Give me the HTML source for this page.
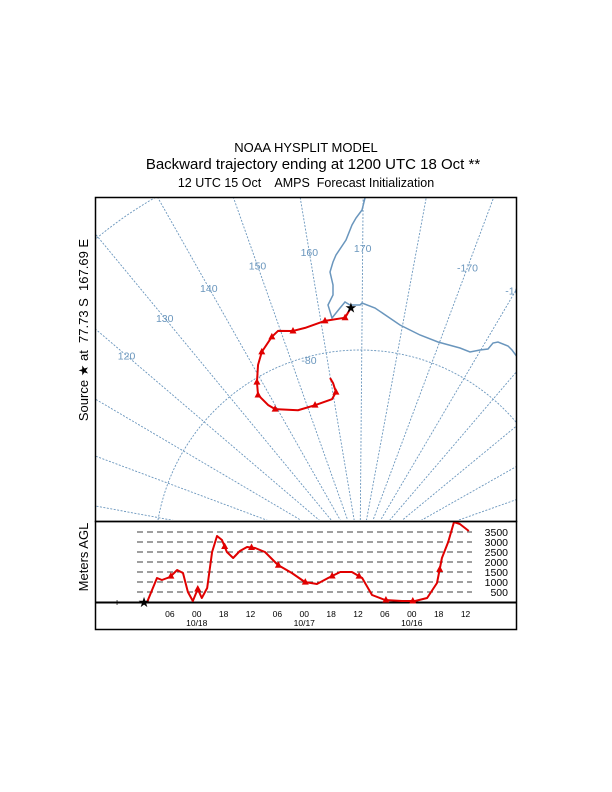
<!DOCTYPE html>
<html><head><meta charset="utf-8"><style>
html,body{margin:0;padding:0;background:#fff;width:612px;height:792px;overflow:hidden;}
svg{display:block;font-family:"Liberation Sans",sans-serif;}
</style></head><body>
<svg id="chart" width="612" height="792" viewBox="0 0 612 792">
<defs>
<clipPath id="mapclip"><rect x="96" y="198" width="420" height="322"/></clipPath>
</defs>
<text x="306" y="152" text-anchor="middle" font-size="13">NOAA HYSPLIT MODEL</text>
<text x="313" y="169" text-anchor="middle" font-size="15">Backward trajectory ending at 1200 UTC 18 Oct **</text>
<text x="306" y="187" text-anchor="middle" font-size="12.5" xml:space="preserve">12 UTC 15 Oct    AMPS  Forecast Initialization</text>
<text transform="translate(88,330) rotate(-90)" text-anchor="middle" font-size="13" xml:space="preserve">Source ★ at  77.73 S  167.69 E</text>
<text transform="translate(88,557) rotate(-90)" text-anchor="middle" font-size="13">Meters AGL</text>
<g id="map" clip-path="url(#mapclip)"></g>
<rect x="95.5" y="197.5" width="421" height="324" fill="none" stroke="#000" stroke-width="1.5"/>
<g id="alt"></g>
<rect x="95.5" y="521.5" width="421" height="108" fill="none" stroke="#000" stroke-width="1.5"/>
</svg>
<script>
// ---- map data ----
const trajLon = [167.4,165.9,161.0,155.9,152.85,149.4,147.5,143.7,141.3,138.7,137.0,138.0,139.3,146.3,152.8,159.3,161.1,160.6,159.9];
const trajLat = [-77.94,-78.41,-78.46,-78.61,-78.6,-78.37,-78.53,-79.0,-79.48,-80.18,-80.74,-81.41,-81.76,-82.31,-82.36,-82.27,-81.96,-81.51,-81.24];
const trajMarkerIdx = [1,2,4,6,7,9,10,12,14,16];
const sourceLon = 167.4, sourceLat = -77.94;
const meridianLons = [];
for (let l = 0; l < 360; l += 10) meridianLons.push(l);
const meridianLabels = ["120","130","140","150","160","170","-170","-160"];
const meridianLabelLons = [120,130,140,150,160,170,190,200];
const latCircles = [-80,-70];
// ---- altitude data ----
const altHours = [0.7,2.9,4.0,5.8,7.4,8.7,9.8,10.9,12.0,12.9,14.1,15.2,16.3,17.4,18.5,19.9,21.4,23.0,24.8,27.0,29.9,33.0,35.9,38.6,41.1,43.8,46.4,48.7,50.9,53.8,57.6,60.5,63.2,65.4,66.5,67.9,69.2,70.5,72.5];
const altMeters = [0,1200,1100,1250,1600,1450,500,50,650,200,700,2500,3300,3100,2500,2200,2550,2750,2700,2500,1850,1450,1000,900,1200,1500,1500,1200,350,100,50,50,200,950,2200,3000,4000,3900,3550];
const altGrid = [500,1000,1500,2000,2500,3000,3500];
const timeTicks = ["06","00","18","12","06","00","18","12","06","00","18","12"];
const tickHours = [6,12,18,24,30,36,42,48,54,60,66,72];
const dateLabels = ["10/18","10/17","10/16"];
const dateHours = [12,36,60];

const NS="http://www.w3.org/2000/svg";
function mk(tag,attrs,parent){const e=document.createElementNS(NS,tag);for(const k in attrs)e.setAttribute(k,attrs[k]);parent.appendChild(e);return e;}
const BLUE="#6a96bd";
// projection
const poleX=360,poleY=555;
function rOf(lat){const d=90+lat;return 20.4*d+0.01*d*d;}
function ang(lon){return (lon-169.5)*Math.PI/180;}
function proj(lon,lat){const t=ang(lon),r=rOf(lat);return [poleX+r*Math.sin(t),poleY-r*Math.cos(t)];}
const map=document.getElementById('map');
meridianLons.forEach(lon=>{
  const p=proj(lon,-50);
  const l=mk('line',{x1:poleX,y1:poleY,x2:p[0],y2:p[1],stroke:BLUE,'stroke-width':0.9,'stroke-dasharray':'2 1.5'},map);
  
  
});
latCircles.forEach(lat=>{
  const c=mk('circle',{cx:poleX,cy:poleY,r:rOf(lat),fill:'none',stroke:BLUE,'stroke-width':0.9,'stroke-dasharray':'2 1.5'},map);
  
  
});
// coastline
const coast=[[365,198],[362,210],[356,218],[352,225],[346,240],[336,255],[333,262],[330,272],[333,285],[333,295],[328,305],[332,318],[340,308],[345,302],[350,305],[360,305],[362,303],[375,308],[400,325],[420,335],[438,342],[460,348],[470,352],[480,350],[488,349],[493,343],[498,342],[508,346],[512,350],[518,358]];
const cl=mk('polyline',{points:coast.map(p=>p.join(',')).join(' '),fill:'none',stroke:BLUE,'stroke-width':1.5},map);


meridianLabels.forEach((s,i)=>{
  const t=ang(meridianLabelLons[i]),r=307;
  const x=poleX+r*Math.sin(t),y=poleY-r*Math.cos(t)+4;
  const tx=mk('text',{x:x,y:y,'text-anchor':'middle','font-size':10.5,fill:BLUE},map);
  tx.textContent=s;
  
  
});
const l80=mk('text',{x:309,y:364,'text-anchor':'middle','font-size':10.5,fill:BLUE},map);
l80.textContent='-80';


// trajectory
const tp=trajLon.map((lon,i)=>proj(lon,trajLat[i]));
const tr=mk('polyline',{points:tp.map(p=>p.join(',')).join(' '),fill:'none',stroke:'#e00000','stroke-width':2,'stroke-linejoin':'round'},map);


function tri(x,y,parent){return mk('polygon',{points:`${x},${y-4} ${x-3.5},${y+2.5} ${x+3.5},${y+2.5}`,fill:'#e00000'},parent);}
trajMarkerIdx.forEach(i=>{
  const m=tri(tp[i][0],tp[i][1],map);
  
  
});
const sp=proj(sourceLon,sourceLat);
const st=mk('text',{x:sp[0],y:sp[1]+5,'text-anchor':'middle','font-size':14,fill:'#000'},map);
st.textContent='★';



// altitude panel
const alt=document.getElementById('alt');
const hx=h=>144+h*4.48;
const ay=m=>602-m*0.02;
altGrid.forEach(v=>{
  const g=mk('line',{x1:137,x2:472,y1:ay(v),y2:ay(v),stroke:'#000','stroke-width':0.8,'stroke-dasharray':'6 4'},alt);
  
  
  const t=mk('text',{x:508,y:ay(v)+4,'text-anchor':'end','font-size':10.5},alt);
  t.textContent=String(v);
  
  
});
const ax=mk('line',{x1:95,x2:517,y1:602.5,y2:602.5,stroke:'#000','stroke-width':2},alt);


const ap=altHours.map((h,i)=>[hx(h),ay(altMeters[i])]);
const al=mk('polyline',{points:ap.map(p=>p.join(',')).join(' '),fill:'none',stroke:'#e00000','stroke-width':2,'stroke-linejoin':'round'},alt);


function altAt(h){for(let i=1;i<altHours.length;i++){if(h<=altHours[i]){const f=(h-altHours[i-1])/(altHours[i]-altHours[i-1]);return altMeters[i-1]+f*(altMeters[i]-altMeters[i-1]);}}return altMeters[altMeters.length-1];}
tickHours.forEach((h,i)=>{
  if(h<72){const m=tri(hx(h),ay(altAt(h)),alt);
  
  }
  const t=mk('text',{x:hx(h)-1,y:617,'text-anchor':'middle','font-size':8.5},alt);
  t.textContent=timeTicks[i];
  
  
});
dateLabels.forEach((s,i)=>{
  const t=mk('text',{x:hx(dateHours[i])-1,y:626,'text-anchor':'middle','font-size':8.5},alt);
  t.textContent=s;
  
  
});
const s2=mk('text',{x:hx(0),y:607,'text-anchor':'middle','font-size':14},alt);
s2.textContent='★';


const pl=mk('text',{x:117,y:606,'text-anchor':'middle','font-size':10},alt);
pl.textContent='+';


</script>
</body></html>
